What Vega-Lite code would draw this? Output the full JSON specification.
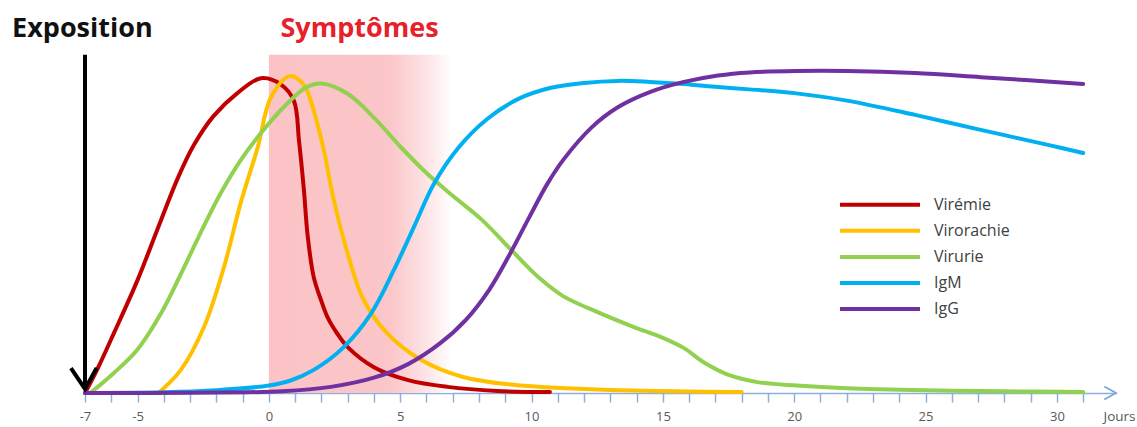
{
  "$schema": "https://vega.github.io/schema/vega-lite/v6.json",
  "width": 1031,
  "height": 340,
  "autosize": {"type": "none"},
  "padding": {"left": 85, "top": 53, "right": 21, "bottom": 34},
  "background": "white",
  "config": {"view": {"stroke": null}, "font": "Open Sans"},
  "datasets": {
    "zones": [{"jour": 0, "fin": 7, "valeur": 99.5, "bas": 0}],
    "expo": [{"jour": -7, "valeur": 99.5, "bas": 1.5}],
    "pointe": [{"jour": -7, "valeur": 1.2}],
    "fleche": [{"jour": 32.25, "valeur": 0}],
    "titre1": [{"jour": -7.1, "valeur": 104.8, "texte": "Exposition"}],
    "titre2": [{"jour": 3.45, "valeur": 104.8, "texte": "Symptômes"}],
    "courbes": [
      {"serie": "Virémie", "jour": -7, "valeur": 0},
      {"serie": "Virémie", "jour": -6.5, "valeur": 7.5},
      {"serie": "Virémie", "jour": -5.9, "valeur": 17.6},
      {"serie": "Virémie", "jour": -5, "valeur": 33.2},
      {"serie": "Virémie", "jour": -4.2, "valeur": 49},
      {"serie": "Virémie", "jour": -3.45, "valeur": 63.5},
      {"serie": "Virémie", "jour": -2.85, "valeur": 73},
      {"serie": "Virémie", "jour": -2.1, "valeur": 81.5},
      {"serie": "Virémie", "jour": -1.2, "valeur": 88.2},
      {"serie": "Virémie", "jour": -0.3, "valeur": 92.6},
      {"serie": "Virémie", "jour": 0.45, "valeur": 90.8},
      {"serie": "Virémie", "jour": 0.95, "valeur": 86},
      {"serie": "Virémie", "jour": 1.15, "valeur": 74},
      {"serie": "Virémie", "jour": 1.33, "valeur": 60},
      {"serie": "Virémie", "jour": 1.48, "valeur": 46},
      {"serie": "Virémie", "jour": 1.71, "valeur": 34},
      {"serie": "Virémie", "jour": 2.0, "valeur": 27},
      {"serie": "Virémie", "jour": 2.25, "valeur": 22},
      {"serie": "Virémie", "jour": 2.6, "valeur": 17.5},
      {"serie": "Virémie", "jour": 3.0, "valeur": 13.5},
      {"serie": "Virémie", "jour": 4.0, "valeur": 7.6},
      {"serie": "Virémie", "jour": 5.3, "valeur": 3.8},
      {"serie": "Virémie", "jour": 6.8, "valeur": 1.8},
      {"serie": "Virémie", "jour": 8.7, "valeur": 0.6},
      {"serie": "Virémie", "jour": 10.7, "valeur": 0.3},
      {"serie": "Virorachie", "jour": -4.2, "valeur": 0},
      {"serie": "Virorachie", "jour": -3.35, "valeur": 6.8},
      {"serie": "Virorachie", "jour": -2.47, "valeur": 19.4},
      {"serie": "Virorachie", "jour": -1.71, "valeur": 37},
      {"serie": "Virorachie", "jour": -1.07, "valeur": 56},
      {"serie": "Virorachie", "jour": -0.42, "valeur": 72.4},
      {"serie": "Virorachie", "jour": 0.08, "valeur": 87},
      {"serie": "Virorachie", "jour": 0.8, "valeur": 93.2},
      {"serie": "Virorachie", "jour": 1.33, "valeur": 90.6},
      {"serie": "Virorachie", "jour": 1.71, "valeur": 83},
      {"serie": "Virorachie", "jour": 2.09, "valeur": 71.5},
      {"serie": "Virorachie", "jour": 2.47, "valeur": 56.8},
      {"serie": "Virorachie", "jour": 3.0, "valeur": 41},
      {"serie": "Virorachie", "jour": 3.6, "valeur": 27.5},
      {"serie": "Virorachie", "jour": 4.5, "valeur": 17.6},
      {"serie": "Virorachie", "jour": 5.8, "valeur": 9.7},
      {"serie": "Virorachie", "jour": 7.4, "valeur": 4.7},
      {"serie": "Virorachie", "jour": 9.3, "valeur": 2.4},
      {"serie": "Virorachie", "jour": 11.1, "valeur": 1.5},
      {"serie": "Virorachie", "jour": 13, "valeur": 0.9},
      {"serie": "Virorachie", "jour": 15.5, "valeur": 0.5},
      {"serie": "Virorachie", "jour": 18, "valeur": 0.3},
      {"serie": "Virurie", "jour": -6.8, "valeur": 0},
      {"serie": "Virurie", "jour": -5.9, "valeur": 5.9},
      {"serie": "Virurie", "jour": -5, "valeur": 12.8},
      {"serie": "Virurie", "jour": -4.1, "valeur": 23.5},
      {"serie": "Virurie", "jour": -3.35, "valeur": 35},
      {"serie": "Virurie", "jour": -2.7, "valeur": 45.5},
      {"serie": "Virurie", "jour": -1.83, "valeur": 58.8},
      {"serie": "Virurie", "jour": -1.07, "valeur": 68.5},
      {"serie": "Virurie", "jour": -0.3, "valeur": 76.5},
      {"serie": "Virurie", "jour": 0.72, "valeur": 85.3},
      {"serie": "Virurie", "jour": 1.4, "valeur": 89.8},
      {"serie": "Virurie", "jour": 2.0, "valeur": 91},
      {"serie": "Virurie", "jour": 3.0, "valeur": 88},
      {"serie": "Virurie", "jour": 4.0, "valeur": 81},
      {"serie": "Virurie", "jour": 5.0, "valeur": 72.5},
      {"serie": "Virurie", "jour": 6.0, "valeur": 64.7},
      {"serie": "Virurie", "jour": 7.0, "valeur": 58},
      {"serie": "Virurie", "jour": 8.1, "valeur": 51},
      {"serie": "Virurie", "jour": 9.3, "valeur": 41.5},
      {"serie": "Virurie", "jour": 10.3, "valeur": 33.8},
      {"serie": "Virurie", "jour": 11.2, "valeur": 28.5},
      {"serie": "Virurie", "jour": 12.6, "valeur": 23.5},
      {"serie": "Virurie", "jour": 13.9, "valeur": 19.4},
      {"serie": "Virurie", "jour": 15.0, "valeur": 16.2},
      {"serie": "Virurie", "jour": 15.8, "valeur": 13.2},
      {"serie": "Virurie", "jour": 16.6, "valeur": 8.8},
      {"serie": "Virurie", "jour": 17.5, "valeur": 5.3},
      {"serie": "Virurie", "jour": 18.6, "valeur": 3.2},
      {"serie": "Virurie", "jour": 20.1, "valeur": 2.2},
      {"serie": "Virurie", "jour": 22, "valeur": 1.4},
      {"serie": "Virurie", "jour": 25, "valeur": 0.8},
      {"serie": "Virurie", "jour": 28, "valeur": 0.5},
      {"serie": "Virurie", "jour": 31, "valeur": 0.3},
      {"serie": "IgM", "jour": -7, "valeur": 0},
      {"serie": "IgM", "jour": -4, "valeur": 0.2},
      {"serie": "IgM", "jour": -2, "valeur": 0.8},
      {"serie": "IgM", "jour": 0, "valeur": 2.2},
      {"serie": "IgM", "jour": 0.8, "valeur": 3.6},
      {"serie": "IgM", "jour": 1.71, "valeur": 6.8},
      {"serie": "IgM", "jour": 2.85, "valeur": 13.5},
      {"serie": "IgM", "jour": 3.9, "valeur": 23.5},
      {"serie": "IgM", "jour": 4.76, "valeur": 36.2},
      {"serie": "IgM", "jour": 5.52, "valeur": 48.8},
      {"serie": "IgM", "jour": 6.28, "valeur": 61.5},
      {"serie": "IgM", "jour": 7.2, "valeur": 72},
      {"serie": "IgM", "jour": 8.3, "valeur": 80.5},
      {"serie": "IgM", "jour": 9.5, "valeur": 86.5},
      {"serie": "IgM", "jour": 10.7, "valeur": 89.7},
      {"serie": "IgM", "jour": 12, "valeur": 91.2},
      {"serie": "IgM", "jour": 13.3, "valeur": 91.8},
      {"serie": "IgM", "jour": 14.5, "valeur": 91.5},
      {"serie": "IgM", "jour": 15.8, "valeur": 90.9},
      {"serie": "IgM", "jour": 17.1, "valeur": 90},
      {"serie": "IgM", "jour": 18.3, "valeur": 89.3},
      {"serie": "IgM", "jour": 20, "valeur": 88.2},
      {"serie": "IgM", "jour": 22, "valeur": 86},
      {"serie": "IgM", "jour": 24.6, "valeur": 81.8},
      {"serie": "IgM", "jour": 27.1, "valeur": 77.4},
      {"serie": "IgM", "jour": 29.7, "valeur": 72.9},
      {"serie": "IgM", "jour": 31, "valeur": 70.6},
      {"serie": "IgG", "jour": -7, "valeur": 0},
      {"serie": "IgG", "jour": -3, "valeur": 0.1},
      {"serie": "IgG", "jour": 0.5, "valeur": 0.5},
      {"serie": "IgG", "jour": 2.36, "valeur": 1.8},
      {"serie": "IgG", "jour": 4.0, "valeur": 4.5},
      {"serie": "IgG", "jour": 5.3, "valeur": 8.5},
      {"serie": "IgG", "jour": 6.5, "valeur": 14.5},
      {"serie": "IgG", "jour": 7.5, "valeur": 21.5},
      {"serie": "IgG", "jour": 8.4, "valeur": 30.5},
      {"serie": "IgG", "jour": 9.15, "valeur": 40.5},
      {"serie": "IgG", "jour": 9.9, "valeur": 51.5},
      {"serie": "IgG", "jour": 10.6, "valeur": 61.5},
      {"serie": "IgG", "jour": 11.2, "valeur": 68.5},
      {"serie": "IgG", "jour": 12.3, "valeur": 78.2},
      {"serie": "IgG", "jour": 13.3, "valeur": 84.1},
      {"serie": "IgG", "jour": 14.5, "valeur": 88.5},
      {"serie": "IgG", "jour": 15.8, "valeur": 91.5},
      {"serie": "IgG", "jour": 17.1, "valeur": 93.4},
      {"serie": "IgG", "jour": 18.3, "valeur": 94.3},
      {"serie": "IgG", "jour": 20.1, "valeur": 94.7},
      {"serie": "IgG", "jour": 22, "valeur": 94.7},
      {"serie": "IgG", "jour": 24.6, "valeur": 94.1},
      {"serie": "IgG", "jour": 27.1, "valeur": 92.9},
      {"serie": "IgG", "jour": 31, "valeur": 90.9}
    ]
  },
  "encoding": {
    "x": {
      "field": "jour",
      "type": "quantitative",
      "scale": {"domain": [-7, 32.25], "nice": false, "zero": false},
      "axis": {
        "values": [-7,-6,-5,-4,-3,-2,-1,0,1,2,3,4,5,6,7,8,9,10,11,12,13,14,15,16,17,18,19,20,21,22,23,24,25,26,27,28,29,30,31],
        "labelExpr": "indexof([-7,-5,0,5,10,15,20,25,30], datum.value) >= 0 ? '' + datum.value : ''",
        "grid": false,
        "domainColor": "#8CB0DC",
        "domainWidth": 1.5,
        "tickColor": "#8CB0DC",
        "tickWidth": 1.5,
        "tickSize": 9,
        "labelFont": "Open Sans",
        "labelFontSize": 13,
        "labelColor": "#595959",
        "labelPadding": 8,
        "labelFlush": false,
        "labelOverlap": false,
        "labelBound": false,
        "title": "Jours",
        "titleFont": "Open Sans",
        "titleFontSize": 13.5,
        "titleFontWeight": "normal",
        "titleColor": "#595959",
        "titleX": 1050,
        "titleY": 27,
        "titleAlign": "right",
        "titleBaseline": "alphabetic"
      }
    },
    "y": {
      "field": "valeur",
      "type": "quantitative",
      "scale": {"domain": [0, 100], "nice": false, "zero": false},
      "axis": null
    }
  },
  "layer": [
    {
      "data": {"name": "zones"},
      "mark": {
        "type": "rect",
        "fill": {
          "gradient": "linear", "x1": 0, "y1": 0, "x2": 1, "y2": 0,
          "stops": [
            {"offset": 0, "color": "#FBC3C6"},
            {"offset": 0.66, "color": "#FBC6C9"},
            {"offset": 0.85, "color": "#FDE3E5"},
            {"offset": 1, "color": "#FFFFFF"}
          ]
        }
      },
      "encoding": {"x2": {"field": "fin"}, "y2": {"field": "bas"}}
    },
    {
      "data": {"name": "courbes"},
      "mark": {"type": "line", "interpolate": "catmull-rom", "strokeWidth": 4, "strokeCap": "round", "strokeJoin": "round"},
      "encoding": {
        "color": {
          "field": "serie",
          "type": "nominal",
          "scale": {
            "domain": ["Virémie", "Virorachie", "Virurie", "IgM", "IgG"],
            "range": ["#C00000", "#FFC000", "#92D050", "#00B0F0", "#7030A0"]
          },
          "legend": {
            "title": null,
            "orient": "none",
            "legendX": 780.5,
            "legendY": 137.2,
            "padding": 0,
            "symbolType": "M -3.2 0 L 3.2 0",
            "symbolSize": 625,
            "symbolStrokeWidth": 4,
            "labelOffset": 39.5,
            "rowPadding": 3.1,
            "labelFont": "Open Sans",
            "labelFontSize": 16,
            "labelColor": "#404040"
          }
        }
      }
    },
    {
      "data": {"name": "expo"},
      "mark": {"type": "rule", "color": "black", "strokeWidth": 4},
      "encoding": {"y2": {"field": "bas"}}
    },
    {
      "data": {"name": "pointe"},
      "mark": {"type": "point", "shape": "M -1.15 -1.7 L 0 0 L 0.95 -1.7", "size": 600, "filled": false, "stroke": "black", "strokeWidth": 4, "strokeJoin": "miter", "opacity": 1}
    },
    {
      "data": {"name": "fleche"},
      "mark": {"type": "point", "shape": "M -1.8 -1 L 0 0 L -1.8 1", "size": 169, "filled": false, "stroke": "#7EA6D8", "strokeWidth": 1.8, "opacity": 1}
    },
    {
      "data": {"name": "titre1"},
      "mark": {"type": "text", "font": "Open Sans", "fontSize": 27, "fontWeight": "bold", "color": "#111111", "align": "center", "baseline": "alphabetic"},
      "encoding": {"text": {"field": "texte"}}
    },
    {
      "data": {"name": "titre2"},
      "mark": {"type": "text", "font": "Open Sans", "fontSize": 27, "fontWeight": "bold", "color": "#E8202A", "align": "center", "baseline": "alphabetic"},
      "encoding": {"text": {"field": "texte"}}
    }
  ]
}
